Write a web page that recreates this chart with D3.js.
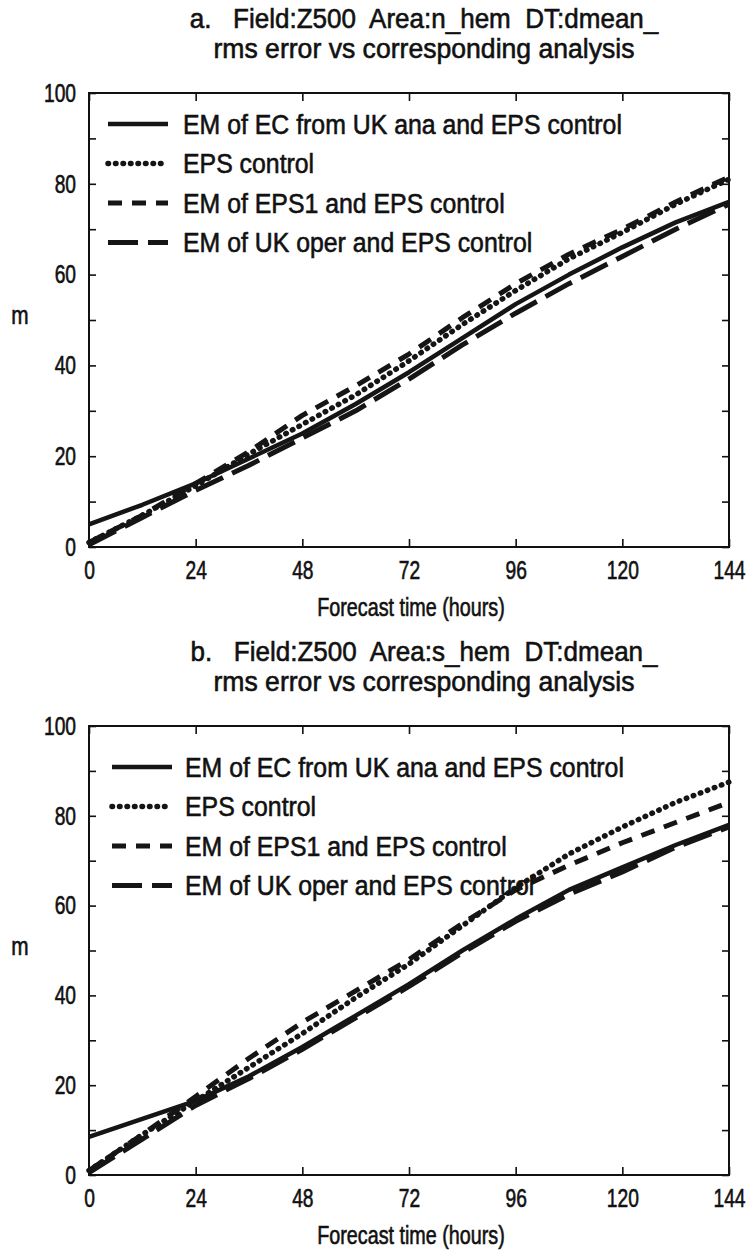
<!DOCTYPE html>
<html lang="en">
<head>
  <meta charset="UTF-8">
  <title>Z500 rms error vs corresponding analysis</title>
  <script src="https://d3js.org/d3.v7.min.js"></script>
  <style>
    body { margin: 0; background: #fff; }
    svg text {
      font-family: "Liberation Sans", Arial, sans-serif;
      fill: #111;
      stroke: #111;
      stroke-width: 0.6px;
    }
    .frame { fill: none; stroke: #111; stroke-width: 2px; }
    .tick line { stroke: #111; stroke-width: 1.6px; }
    .series { fill: none; stroke: #151515; }
  </style>
</head>
<body>
<svg width="747" height="1251"></svg>
<script>
  // forecast steps (hours)
  var hours = [0, 12, 24, 36, 48, 60, 72, 84, 96, 108, 120, 132, 144];

  var seriesNames = [
    "EM of EC from UK ana and EPS control",
    "EPS control",
    "EM of EPS1 and EPS control",
    "EM of UK oper and EPS control"
  ];

  // a. n_hem
  var nhemEC     = [5, 9.3, 14, 19.5, 25, 31.5, 38.5, 46, 53.5, 60, 66, 71.5, 76];
  var nhemCtrl   = [1, 7, 13.5, 20.5, 27, 33.5, 41, 49, 56.5, 63.5, 69.3, 75.5, 81];
  var nhemEPS1   = [1, 7, 14, 21, 29, 35.5, 42.5, 50.5, 58, 64.5, 70, 76, 81.5];
  var nhemUKoper = [0.5, 6.5, 12.5, 18, 24, 30, 37, 44.5, 51.5, 58, 64, 70, 75.5];

  // b. s_hem
  var shemEC     = [8.5, 12.5, 16.5, 22, 28.5, 35.5, 42.5, 50, 57, 63.5, 68.5, 73.5, 78];
  var shemCtrl   = [1, 9, 16.5, 24, 31.5, 39.5, 47, 55.5, 64, 71.5, 77.5, 83, 87.5];
  var shemEPS1   = [1, 9, 17.5, 26, 34, 41, 48, 56, 63.5, 69, 74, 78.5, 83];
  var shemUKoper = [0.5, 8, 15.5, 21.5, 28, 35, 42, 49.5, 56.5, 62.5, 67.5, 73, 77.5];

  var xTicks = [0, 24, 48, 72, 96, 120, 144];
  var yTicks = [0, 20, 40, 60, 80, 100];
  var yMinor = [10, 30, 50, 70, 90];

  var panels = [
    { title1: "a.   Field:Z500  Area:n_hem  DT:dmean_", title2: "rms error vs corresponding analysis",
      top: 93, bottom: 547, legendTop: 124, sampleX: 108, textX: 183,
      data: [nhemEC, nhemCtrl, nhemEPS1, nhemUKoper] },
    { title1: "b.   Field:Z500  Area:s_hem  DT:dmean_", title2: "rms error vs corresponding analysis",
      top: 726, bottom: 1175, legendTop: 767, sampleX: 112, textX: 185,
      data: [shemEC, shemCtrl, shemEPS1, shemUKoper] }
  ];

  // line styles per series
  var styles = [
    { width: 4.5, dash: null, cap: "butt" },
    { width: 5.5, dash: "0.5 7", cap: "round" },
    { width: 5, dash: "14 10", cap: "butt" },
    { width: 5, dash: "30 10", cap: "butt" }
  ];

  var left = 89, right = 729;
  var svg = d3.select("svg");

  var x = d3.scaleLinear().domain([0, 144]).range([left, right]);

  // condensed text: the original uses a narrow face
  function label(parent, px, py, str, size, sx, anchor) {
    return parent.append("text")
      .attr("transform", "translate(" + px + "," + py + ") scale(" + sx + ",1)")
      .attr("text-anchor", anchor || "start")
      .attr("font-size", size)
      .style("white-space", "pre")
      .text(str);
  }

  panels.forEach(function (p) {
    var y = d3.scaleLinear().domain([0, 100]).range([p.bottom, p.top]);
    var g = svg.append("g");

    // titles
    label(g, 424, p.top - 65, p.title1, 28, 0.93, "middle");
    label(g, 424, p.top - 35, p.title2, 28, 0.95, "middle");

    // axes (ticks inward)
    var yAxis = g.append("g")
      .attr("transform", "translate(" + left + ",0)")
      .call(d3.axisLeft(y).tickValues(yTicks).tickSizeInner(-7).tickSizeOuter(0).tickPadding(17.5));
    yAxis.selectAll("text").attr("font-size", 26).attr("transform", "scale(0.74,1)");

    g.append("g")
      .attr("transform", "translate(" + left + ",0)")
      .call(d3.axisLeft(y).tickValues(yMinor).tickSizeInner(-7).tickSizeOuter(0).tickFormat(""));
    g.append("g")
      .attr("transform", "translate(" + right + ",0)")
      .call(d3.axisRight(y).tickValues(yTicks.concat(yMinor)).tickSizeInner(-7).tickSizeOuter(0).tickFormat(""));

    var xAxis = g.append("g")
      .attr("transform", "translate(0," + p.bottom + ")")
      .call(d3.axisBottom(x).tickValues(xTicks).tickSizeInner(-8).tickSizeOuter(0));
    xAxis.selectAll("text")
      .attr("font-size", 26)
      .attr("y", 32).attr("dy", 0)
      .attr("transform", "scale(0.74,1)");

    g.append("g")
      .attr("transform", "translate(0," + p.top + ")")
      .call(d3.axisTop(x).tickValues(xTicks).tickSizeInner(-8).tickSizeOuter(0).tickFormat(""));

    g.selectAll(".domain").remove();
    g.selectAll(".tick text").attr("fill", "#111");

    g.append("rect")
      .attr("class", "frame")
      .attr("x", left).attr("y", p.top)
      .attr("width", right - left).attr("height", p.bottom - p.top);

    // axis labels
    label(g, 20, (p.top + p.bottom) / 2 + 4, "m", 26, 0.8, "middle");
    label(g, 411, p.bottom + 69, "Forecast time (hours)", 25, 0.79, "middle");

    // series
    var line = d3.line()
      .x(function (d, i) { return x(hours[i]); })
      .y(function (d) { return y(d); });

    p.data.forEach(function (values, k) {
      var s = styles[k];
      g.append("path")
        .datum(values)
        .attr("class", "series")
        .attr("d", line)
        .attr("stroke-width", s.width)
        .attr("stroke-dasharray", s.dash)
        .attr("stroke-linecap", s.cap)
        .attr("stroke-linejoin", "round");
    });

    // legend
    seriesNames.forEach(function (name, k) {
      var s = styles[k];
      var ly = p.legendTop + k * 39.5;
      g.append("line")
        .attr("x1", p.sampleX).attr("x2", p.sampleX + 60)
        .attr("y1", ly).attr("y2", ly)
        .attr("stroke", "#151515")
        .attr("stroke-width", s.width)
        .attr("stroke-dasharray", s.dash)
        .attr("stroke-linecap", s.cap);
      label(g, p.textX, ly + 9.5, name, 27, 0.92);
    });
  });
</script>
</body>
</html>
